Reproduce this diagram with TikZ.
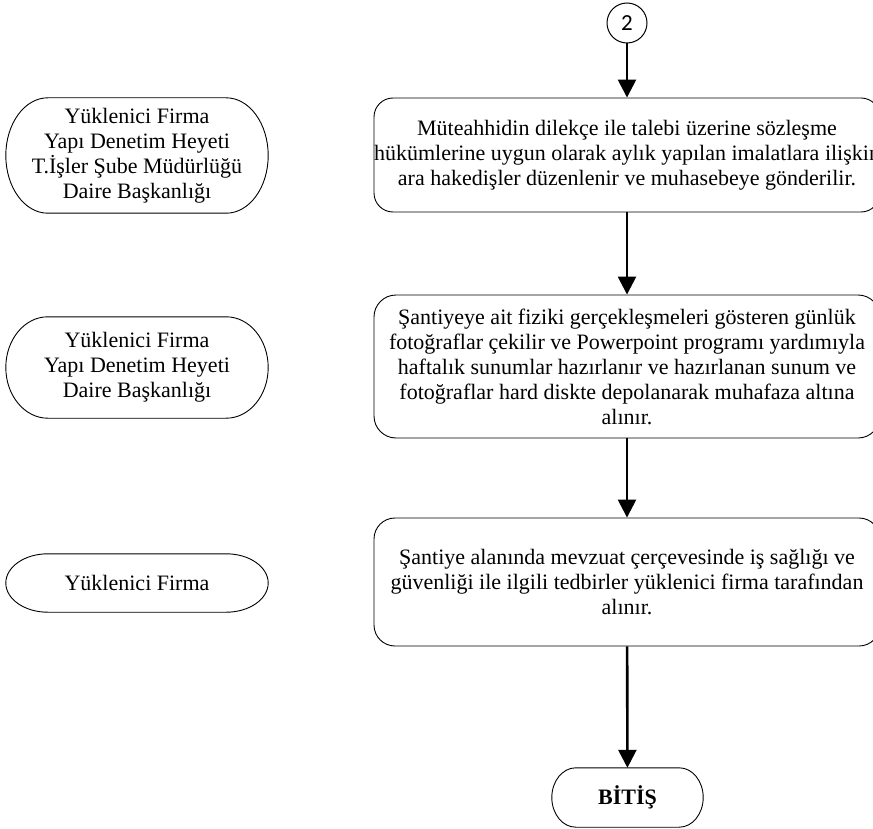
\documentclass[tikz,border=0pt]{standalone}
\usepackage{fontspec}
\setmainfont{Liberation Serif}
\newfontfamily\numfont{Carlito}
\usetikzlibrary{arrows.meta,calc}
\tikzset{
  txt/.style={font=\fontsize{22}{25}\selectfont, align=center, inner sep=0pt},
  procbox/.style={txt, draw, line width=0.9pt, minimum width=506pt},
  termnode/.style={txt, minimum width=262pt},
  conn/.style={draw, line width=2.6pt, -{Triangle[length=18pt,width=18pt]}},
  termline/.style={line width=0.9pt}
}
\newcommand{\drawterm}[2]{%
  \draw[termline] let \p1=(#1.north), \p2=(#1.south), \n1={0.5*(\y1-\y2)} in
    ([xshift=#2]#1.north west) -- ([xshift=-#2]#1.north east)
    arc[start angle=90, end angle=-90, x radius=#2, y radius=\n1]
    -- ([xshift=#2]#1.south west)
    arc[start angle=270, end angle=90, x radius=#2, y radius=\n1] -- cycle;}
\begin{document}
\begin{tikzpicture}[x=1pt,y=-1pt]
\useasboundingbox (0,0) rectangle (873,829);

% connector circle
\node[draw, circle, line width=1pt, minimum size=40pt, inner sep=0pt, font=\numfont\fontsize{23}{25}\selectfont] (c2) at (627,23) {2};

% process boxes
\node[procbox, minimum height=114pt, rounded corners=19pt] (b1) at (627,155)
  {Müteahhidin dilekçe ile talebi üzerine sözleşme\\
   hükümlerine uygun olarak aylık yapılan imalatlara ilişkin\\
   ara hakedişler düzenlenir ve muhasebeye gönderilir.};
\node[procbox, minimum height=143pt, rounded corners=22pt] (b2) at (627,366.5)
  {Şantiyeye ait fiziki gerçekleşmeleri gösteren günlük\\
   fotoğraflar çekilir ve Powerpoint programı yardımıyla\\
   haftalık sunumlar hazırlanır ve hazırlanan sunum ve\\
   fotoğraflar hard diskte depolanarak muhafaza altına\\
   alınır.};
\node[procbox, minimum height=128pt, rounded corners=21pt] (b3) at (627,582)
  {Şantiye alanında mevzuat çerçevesinde iş sağlığı ve\\
   güvenliği ile ilgili tedbirler yüklenici firma tarafından\\
   alınır.};

% end terminator
\node[txt, font=\fontsize{22}{25}\selectfont\bfseries, minimum width=151pt, minimum height=59pt] (end) at (627.5,797.5) {BİTİŞ};
\drawterm{end}{24pt}

% responsible units
\node[termnode, minimum height=115pt] (r1) at (137,155.5)
  {Yüklenici Firma\\ Yapı Denetim Heyeti\\ T.İşler Şube Müdürlüğü\\ Daire Başkanlığı};
\drawterm{r1}{42pt}
\node[termnode, minimum height=101pt] (r2) at (137,367.5)
  {Yüklenici Firma\\ Yapı Denetim Heyeti\\ Daire Başkanlığı};
\drawterm{r2}{42pt}
\node[termnode, minimum height=58pt] (r3) at (137,583)
  {Yüklenici Firma};
\drawterm{r3}{42pt}

% connectors
\draw[conn] (c2) -- (b1);
\draw[conn] (b1) -- (b2);
\draw[conn] (b2) -- (b3);
\draw[conn] (b3) -- (end);
\end{tikzpicture}
\end{document}
